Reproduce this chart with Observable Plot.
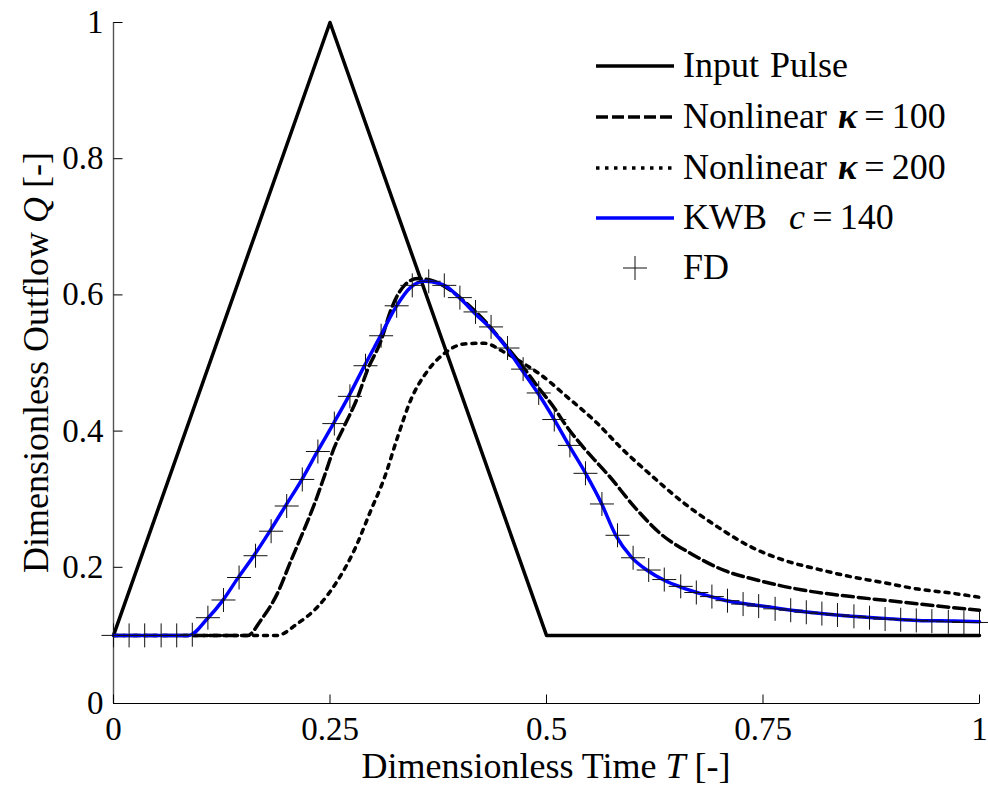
<!DOCTYPE html>
<html><head><meta charset="utf-8">
<script src="https://cdn.jsdelivr.net/npm/d3@7"></script>
<script src="https://cdn.jsdelivr.net/npm/@observablehq/plot@0.6"></script>
<style>
body{margin:0;background:#fff;}
#wrap{position:relative;width:988px;height:794px;font-family:"Liberation Serif",serif;}
#wrap svg.overlay{position:absolute;left:0;top:0;pointer-events:none;}
</style></head><body><div id="wrap"></div>
<script>
// Input pulse
const pulseT = [0, 0.25, 0.5, 1];
const pulseQ = [0.1, 1, 0.1, 0.1];
// Nonlinear kappa = 100
const nl100T = [0, 0.155, 0.170, 0.189, 0.205, 0.218, 0.232, 0.243, 0.255, 0.266, 0.282, 0.293, 0.309, 0.320, 0.336, 0.351, 0.370, 0.390, 0.410, 0.430, 0.450, 0.470, 0.490, 0.509, 0.521, 0.544, 0.561, 0.571, 0.602, 0.632, 0.667, 0.706, 0.744, 0.794, 0.852, 0.910, 0.968, 1.0];
const nl100Q = [0.1, 0.1, 0.122, 0.161, 0.210, 0.249, 0.293, 0.332, 0.376, 0.406, 0.450, 0.489, 0.533, 0.577, 0.614, 0.624, 0.620, 0.606, 0.585, 0.560, 0.530, 0.499, 0.465, 0.434, 0.411, 0.374, 0.350, 0.336, 0.288, 0.249, 0.220, 0.195, 0.181, 0.167, 0.157, 0.149, 0.141, 0.137];
// Nonlinear kappa = 200
const nl200T = [0, 0.189, 0.212, 0.235, 0.259, 0.278, 0.297, 0.313, 0.328, 0.343, 0.363, 0.382, 0.405, 0.428, 0.451, 0.475, 0.492, 0.524, 0.559, 0.584, 0.621, 0.659, 0.698, 0.736, 0.775, 0.814, 0.852, 0.891, 0.929, 0.968, 1.0];
const nl200Q = [0.1, 0.1, 0.117, 0.141, 0.181, 0.225, 0.283, 0.332, 0.391, 0.445, 0.489, 0.514, 0.528, 0.529, 0.516, 0.498, 0.484, 0.450, 0.411, 0.378, 0.335, 0.294, 0.259, 0.230, 0.210, 0.197, 0.186, 0.177, 0.168, 0.162, 0.156];
// KWB c = 140
const kwbT = [0, 0.087, 0.108, 0.126, 0.143, 0.162, 0.180, 0.199, 0.218, 0.235, 0.254, 0.272, 0.289, 0.308, 0.326, 0.343, 0.359, 0.382, 0.401, 0.418, 0.436, 0.453, 0.472, 0.490, 0.509, 0.526, 0.546, 0.563, 0.580, 0.598, 0.617, 0.636, 0.655, 0.679, 0.708, 0.744, 0.783, 0.817, 0.852, 0.891, 0.929, 0.971, 1.0];
const kwbQ = [0.1, 0.1, 0.124, 0.151, 0.183, 0.217, 0.252, 0.291, 0.330, 0.369, 0.411, 0.452, 0.494, 0.539, 0.582, 0.611, 0.620, 0.614, 0.594, 0.572, 0.550, 0.524, 0.489, 0.456, 0.417, 0.379, 0.336, 0.295, 0.247, 0.215, 0.195, 0.181, 0.171, 0.161, 0.151, 0.144, 0.137, 0.132, 0.128, 0.125, 0.122, 0.121, 0.120];
// FD
const fdT = [0, 0.018, 0.036, 0.055, 0.073, 0.091, 0.109, 0.127, 0.145, 0.164, 0.182, 0.2, 0.218, 0.236, 0.255, 0.273, 0.291, 0.309, 0.327, 0.345, 0.364, 0.382, 0.4, 0.418, 0.436, 0.455, 0.473, 0.491, 0.509, 0.527, 0.545, 0.564, 0.582, 0.6, 0.618, 0.636, 0.655, 0.673, 0.691, 0.709, 0.727, 0.745, 0.764, 0.782, 0.8, 0.818, 0.836, 0.855, 0.873, 0.891, 0.909, 0.927, 0.945, 0.964, 0.982, 1.0];
const fdQ = [0.1, 0.1, 0.1, 0.1, 0.1, 0.101, 0.126, 0.152, 0.185, 0.217, 0.253, 0.290, 0.329, 0.370, 0.411, 0.451, 0.496, 0.540, 0.584, 0.614, 0.620, 0.614, 0.596, 0.575, 0.553, 0.522, 0.491, 0.456, 0.417, 0.379, 0.338, 0.293, 0.247, 0.214, 0.196, 0.182, 0.172, 0.163, 0.157, 0.151, 0.146, 0.143, 0.139, 0.137, 0.134, 0.132, 0.130, 0.128, 0.126, 0.124, 0.123, 0.122, 0.121, 0.120, 0.119, 0.119];
// Ticks
const xTicks = [0, 0.25, 0.5, 0.75, 1];
const xTickLabels = ["0", "0.25", "0.5", "0.75", "1"];
const yTicks = [0, 0.2, 0.4, 0.6, 0.8, 1];
const yTickLabels = ["0", "0.2", "0.4", "0.6", "0.8", "1"];

const tbl = (T, Q) => T.map((t, i) => ({T: t, Q: Q[i]}));
const pulse = tbl(pulseT, pulseQ);
const nl100 = tbl(nl100T, nl100Q);
const nl200 = tbl(nl200T, nl200Q);
const kwb = tbl(kwbT, kwbQ);
const fd = tbl(fdT, fdQ);

const FONT = "'Liberation Serif', serif";
const plusSym = {draw(ctx) { const h = 12; ctx.moveTo(-h, 0); ctx.lineTo(h, 0); ctx.moveTo(0, -h); ctx.lineTo(0, h); }};
const yTickSym = {draw(ctx) { ctx.moveTo(0, 0); ctx.lineTo(9, 0); }};
const xTickSym = {draw(ctx) { ctx.moveTo(0, 0); ctx.lineTo(0, -9); }};

const ML = 113, MR = 9, MT = 22, MB = 91, W = 988, H = 794;
const LW = 3.5;

const chart = Plot.plot({
  width: W, height: H,
  marginLeft: ML, marginRight: MR, marginTop: MT, marginBottom: MB,
  style: {fontFamily: FONT, fontSize: "33px", background: "#fff", color: "#000", overflow: "visible"},
  x: {domain: [0, 1], label: null},
  y: {domain: [0, 1], label: null},
  marks: [
    Plot.axisX({ticks: xTicks, tickFormat: (d) => xTickLabels[xTicks.indexOf(d)], tickSize: 0, tickPadding: 13, fontSize: 33, fill: "#000"}),
    Plot.axisY({ticks: yTicks, tickFormat: (d) => yTickLabels[yTicks.indexOf(d)], tickSize: 0, tickPadding: 10, fontSize: 33, fill: "#000"}),
    Plot.ruleY([0], {stroke: "#000", strokeWidth: 1.2}),
    Plot.ruleX([0], {stroke: "#555", strokeWidth: 1.4}),
    Plot.dot(yTicks, {x: () => 0, y: d => d, symbol: yTickSym, r: 5, fill: "none", stroke: "#000", strokeWidth: 1}),
    Plot.dot(xTicks, {x: d => d, y: () => 0, symbol: xTickSym, r: 5, fill: "none", stroke: "#000", strokeWidth: 1}),
    Plot.line(pulse, {x: "T", y: "Q", stroke: "#000", strokeWidth: LW}),
    Plot.line(nl100, {x: "T", y: "Q", stroke: "#000", strokeWidth: LW, strokeDasharray: "11,5", curve: "monotone-x"}),
    Plot.line(nl200, {x: "T", y: "Q", stroke: "#000", strokeWidth: LW, strokeDasharray: "4,6", curve: "monotone-x"}),
    Plot.line(kwb, {x: "T", y: "Q", stroke: "#0000ff", strokeWidth: LW, curve: "monotone-x"}),
    Plot.dot(fd, {x: "T", y: "Q", symbol: plusSym, r: 6, fill: "none", stroke: "#111", strokeWidth: 1})
  ]
});
const wrap = document.getElementById("wrap");
wrap.appendChild(chart);

// Overlay: axis labels and legend
const ov = d3.select(wrap).append("svg").attr("class", "overlay")
  .attr("width", W).attr("height", H)
  .style("font-family", FONT);

const xl = ov.append("text").attr("x", ML + (W - ML - MR) / 2).attr("y", 778).attr("text-anchor", "middle").style("font-size", "36px");
xl.append("tspan").text("Dimensionless Time ");
xl.append("tspan").attr("font-style", "italic").text("T");
xl.append("tspan").text(" [-]");

const yl = ov.append("text").attr("transform", `translate(48,${MT + (H - MT - MB) / 2}) rotate(-90)`).attr("text-anchor", "middle").style("font-size", "36px");
yl.append("tspan").text("Dimensionless Outflow ");
yl.append("tspan").attr("font-style", "italic").text("Q");
yl.append("tspan").text(" [-]");

const legendRows = [
  {parts: [["Input Pulse", ""]], kind: "solid"},
  {parts: [["Nonlinear ", ""], ["\u03BA", "bi"], ["\u2009=\u2009100", ""]], kind: "dash"},
  {parts: [["Nonlinear ", ""], ["\u03BA", "bi"], ["\u2009=\u2009200", ""]], kind: "dot"},
  {parts: [["KWB\u00A0\u00A0", ""], ["c", "i"], ["\u2009=\u2009140", ""]], kind: "blue"},
  {parts: [["FD", ""]], kind: "plus"}
];
const rowY = [66, 117, 168, 218, 268];
legendRows.forEach((r, i) => {
  const y = rowY[i];
  const g = ov.append("g");
  if (r.kind === "plus") {
    g.append("path").attr("d", `M${635 - 12},${y}H${635 + 12}M635,${y - 12}V${y + 12}`).attr("stroke", "#111").attr("stroke-width", 1).attr("fill", "none");
  } else {
    const ln = g.append("line").attr("x1", 596).attr("x2", 674).attr("y1", y).attr("y2", y)
      .attr("stroke", r.kind === "blue" ? "#0000ff" : "#000").attr("stroke-width", LW);
    if (r.kind === "dash") ln.attr("stroke-dasharray", "12,4");
    if (r.kind === "dot") ln.attr("stroke-dasharray", "3.5,5.5");
  }
  const t = g.append("text").attr("x", 683).attr("y", y + 11).style("font-size", "36px").attr("word-spacing", "2px");
  r.parts.forEach(([s, st]) => {
    const sp = t.append("tspan").text(s);
    if (st === "bi") sp.attr("font-weight", "bold").attr("font-style", "italic");
    if (st === "i") sp.attr("font-style", "italic");
  });
});
</script>
</body></html>
